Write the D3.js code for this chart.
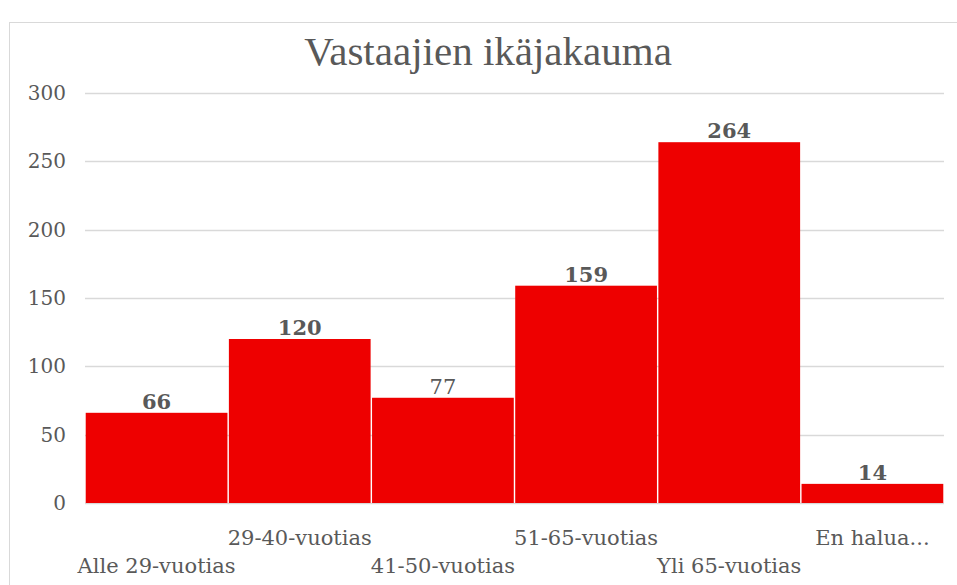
<!DOCTYPE html>
<html>
<head>
<meta charset="utf-8">
<script src="https://cdn.jsdelivr.net/npm/d3@7"></script>
<style>
  body { margin: 0; background: #fff; }
  text { font-family: "DejaVu Serif", Georgia, serif; fill: #595959; }
</style>
</head>
<body>
<svg></svg>
<script>
// данные диаграммы
const categories = ["Alle 29-vuotias", "29-40-vuotias", "41-50-vuotias", "51-65-vuotias", "Yli 65-vuotias", "En halua..."];
const counts = [66, 120, 77, 159, 264, 14];
const yTicks = [0, 50, 100, 150, 200, 250, 300];
const title = "Vastaajien ikäjakauma";

const width = 957;
const height = 585;
const plotLeft = 85;
const plotRight = 944;
const plotTop = 93;
const plotBottom = 503;

let svg = d3.select("svg")
  .attr("width", width)
  .attr("height", height);

// рамка
svg.append("rect")
  .attr("x", 9.5)
  .attr("y", 22.5)
  .attr("width", 1000)
  .attr("height", 700)
  .attr("fill", "none")
  .attr("stroke", "#d9d9d9");

// заголовок
svg.append("text")
  .attr("x", 488)
  .attr("y", 65)
  .attr("text-anchor", "middle")
  .style("font-family", '"Liberation Serif", serif')
  .style("font-size", "41px")
  .text(title);

let scX = d3.scaleBand()
  .domain(categories)
  .range([plotLeft, plotRight])
  .paddingInner(0.01)
  .paddingOuter(0.005);

let scY = d3.scaleLinear()
  .domain([0, 300])
  .range([plotBottom, plotTop]);

// сетка
svg.append("g")
  .selectAll("line")
  .data(yTicks)
  .join("line")
  .attr("x1", plotLeft)
  .attr("x2", plotRight)
  .attr("y1", d => Math.round(scY(d)) + 0.5)
  .attr("y2", d => Math.round(scY(d)) + 0.5)
  .attr("stroke", "#d9d9d9")
  .attr("stroke-width", 1.5);

// ось Y
let axisY = d3.axisLeft(scY).tickValues(yTicks).tickSize(0).tickPadding(0);
let gY = svg.append("g")
  .attr("transform", `translate(66, 0)`)
  .call(axisY);
gY.select(".domain").remove();
gY.selectAll("text")
  .style("font-family", '"DejaVu Serif", serif')
  .style("font-size", "20px")
  .attr("fill", "#595959");

// столбцы
svg.append("g")
  .selectAll("rect")
  .data(counts)
  .join("rect")
  .attr("x", (d, i) => scX(categories[i]))
  .attr("y", d => scY(d))
  .attr("width", scX.bandwidth())
  .attr("height", d => plotBottom - scY(d))
  .attr("fill", "#ee0000");

// подписи значений
svg.append("g")
  .selectAll("text")
  .data(counts)
  .join("text")
  .attr("x", (d, i) => scX(categories[i]) + scX.bandwidth() / 2)
  .attr("y", d => scY(d) - 4)
  .attr("text-anchor", "middle")
  .style("font-size", "21px")
  .style("font-weight", (d, i) => i === 2 ? "normal" : "bold")
  .text(d => d);

// ось X - подписи в два ряда
let axisX = d3.axisBottom(scX).tickSize(0).tickPadding(0);
let gX = svg.append("g")
  .attr("transform", `translate(0, ${plotBottom})`)
  .call(axisX);
gX.select(".domain").remove();
gX.selectAll("text")
  .style("font-family", '"DejaVu Serif", serif')
  .style("font-size", "21px")
  .attr("fill", "#595959")
  .attr("dy", null)
  .attr("y", (d, i) => i % 2 === 0 ? 70 : 42);
</script>
</body>
</html>
